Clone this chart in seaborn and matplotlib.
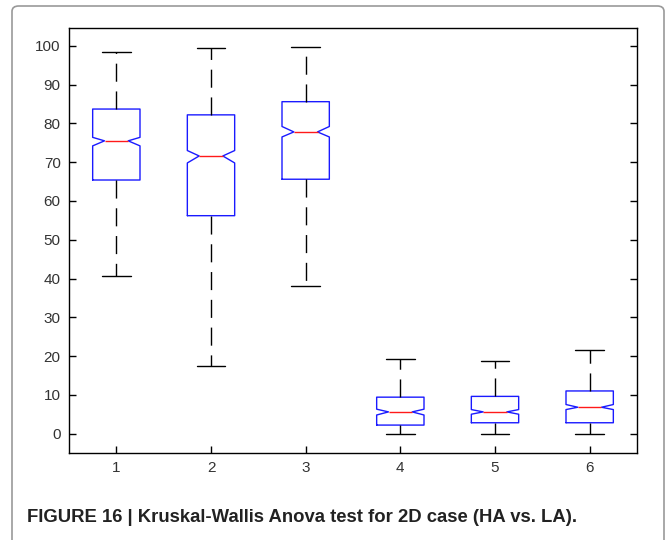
"""Notched box plot (MATLAB style) of the Kruskal-Wallis test, 2D case (HA vs. LA)."""

import matplotlib
matplotlib.use("Agg")
import matplotlib.pyplot as plt
from matplotlib.patches import FancyBboxPatch
import seaborn as sns

# values
groups = ["1", "2", "3", "4", "5", "6"]
whisker_low = [40.7, 17.4, 38.1, 0.0, 0.0, 0.0]
q1 = [65.4, 56.2, 65.6, 2.2, 2.8, 2.8]
median = [75.5, 71.6, 77.8, 5.6, 5.6, 6.8]
q3 = [83.7, 82.2, 85.6, 9.4, 9.6, 11.0]
whisker_high = [98.5, 99.4, 99.8, 19.3, 18.8, 21.5]
notch_low = [74.2, 69.8, 76.5, 4.8, 5.0, 6.2]
notch_high = [76.4, 73.0, 79.2, 6.3, 6.2, 7.5]
yticks = [0, 10, 20, 30, 40, 50, 60, 70, 80, 90, 100]
caption = "FIGURE 16 | Kruskal-Wallis Anova test for 2D case (HA vs. LA)."

sns.set_style("white")
plt.rcParams["font.family"] = ["Liberation Sans", "DejaVu Sans"]

fig = plt.figure(figsize=(6.72, 5.40), dpi=100)
ax = fig.add_axes([69 / 672, 1 - 453 / 540, 568 / 672, 425 / 540])

stats = []
for i, g in enumerate(groups):
    stats.append(dict(label=g, whislo=whisker_low[i], q1=q1[i], med=median[i],
                      q3=q3[i], whishi=whisker_high[i],
                      cilo=notch_low[i], cihi=notch_high[i], fliers=[]))

ax.bxp(stats, positions=range(1, len(groups) + 1), widths=0.5, capwidths=0.3,
       shownotches=True, showfliers=False,
       boxprops=dict(color="#1a1aff", linewidth=1.0),
       medianprops=dict(color="#ff1a1a", linewidth=1.0),
       whiskerprops=dict(color="black", linewidth=1.0, linestyle=(0, (13, 7))),
       capprops=dict(color="black", linewidth=1.0))

ax.set_xlim(0.5, 6.5)
ax.set_ylim(-5, 104.6)
ax.set_yticks(yticks)
ax.set_xticks(range(1, len(groups) + 1))
ax.set_xticklabels(groups)
ax.tick_params(axis="both", direction="in", length=5, width=1, labelsize=11,
               labelcolor="#333333", color="black", pad=6)
ax.tick_params(axis="y", right=True, left=True)
ax.tick_params(axis="x", bottom=True, top=False)
for sp in ax.spines.values():
    sp.set_color("black")
    sp.set_linewidth(1.0)
    sp.set_visible(True)

# rounded frame around the whole figure, open at the bottom edge
frame = FancyBboxPatch((12 / 672, -0.1), 652 / 672, 1.1 - 6 / 540,
                       boxstyle="round,pad=0,rounding_size=0.01",
                       transform=fig.transFigure, fill=False,
                       edgecolor="#999999", linewidth=1.2)
fig.patches.append(frame)

fig.text(27 / 672, 1 - 518 / 540, caption, fontsize=13.3, fontweight="bold",
         color="#222222", ha="left", va="center")

fig.savefig("out.png", dpi=100)
